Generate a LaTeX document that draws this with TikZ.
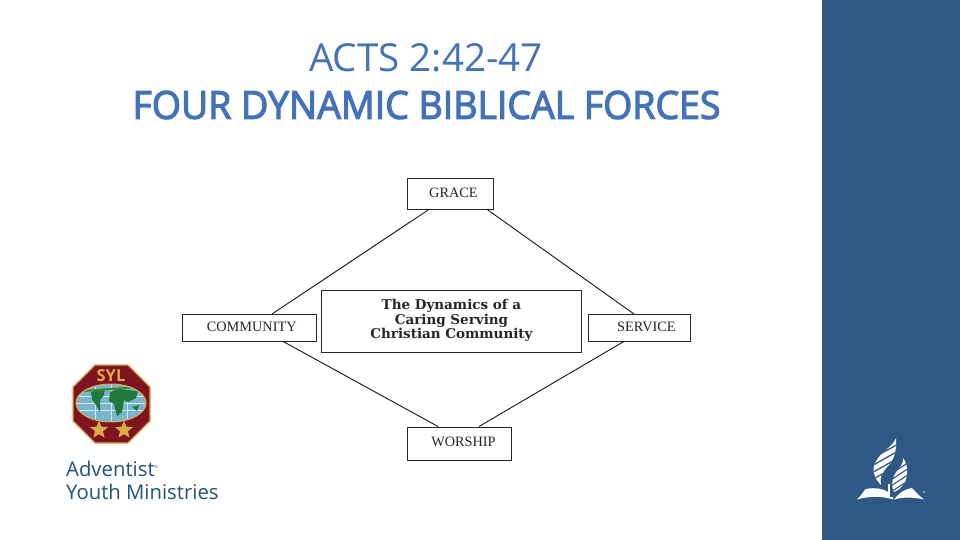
\documentclass[tikz,border=0pt]{standalone}
\usepackage{fontspec}
\usetikzlibrary{shapes.geometric}
\setmainfont{Liberation Serif}
\newfontfamily\titlefont{Open Sans}
\newfontfamily\titleboldfont[FakeBold=3,FakeStretch=0.97]{Open Sans}
\newfontfamily\logofont{Open Sans}
\newfontfamily\capfont{Liberation Serif}
\newfontfamily\headfont{DejaVu Serif}
\definecolor{titleblue}{HTML}{4472B8}
\definecolor{panelblue}{HTML}{2F5884}
\definecolor{logoteal}{HTML}{1F5378}
\definecolor{octred}{HTML}{7E1420}
\definecolor{octgold}{HTML}{DDA94A}
\definecolor{seablue}{HTML}{79B5CC}
\definecolor{landgreen}{HTML}{1F7A3A}
\tikzset{
  boxnode/.style={draw=black!85,line width=0.9pt,fill=white,inner sep=0pt,anchor=north west,font=\capfont\fontsize{14.3}{16}\selectfont,text=black!85},
  linkline/.style={draw=black,line width=0.8pt},
  starnode/.style={star,star points=5,star point ratio=2.3,fill=octgold,draw=none,inner sep=0pt,minimum size=19pt}
}
\begin{document}
\begin{tikzpicture}[x=1pt,y=-1pt]
\useasboundingbox (0,0) rectangle (960,540);
\fill[white] (0,0) rectangle (960,540);
\fill[panelblue] (822,0) rectangle (960,540);
% titles
\node[text=titleblue,font=\titlefont\fontsize{38.6}{42}\selectfont,inner sep=0pt] (title1) at (426,58) {ACTS 2:42-47};
\node[text=titleblue,font=\titleboldfont\fontsize{38.6}{44}\selectfont,inner sep=0pt] (title2) at (426.5,105) {FOUR DYNAMIC BIBLICAL FORCES};
% boxes
\node[boxnode,minimum width=86pt,minimum height=30.5pt] (grace) at (407,178) {\hspace*{6pt}\raisebox{2pt}{GRACE}};
\node[boxnode,minimum width=134.5pt,minimum height=26.5pt] (comm) at (181.5,314) {\hspace*{5pt}\raisebox{2pt}{COMMUNITY}};
\node[boxnode,minimum width=102pt,minimum height=26.5pt] (serv) at (588,314) {\hspace*{14pt}\raisebox{2pt}{SERVICE}};
\node[boxnode,minimum width=104pt,minimum height=33pt] (wors) at (407,426.5) {\hspace*{8pt}\raisebox{4pt}{WORSHIP}};
\node[boxnode,minimum width=260pt,minimum height=61.5pt,font=\headfont\bfseries\fontsize{13.5}{14.5}\selectfont] (centre) at (321,290) {\raisebox{2pt}{\begin{tabular}{@{}c@{}}The Dynamics of a\\Caring Serving\\Christian Community\end{tabular}}};
% connectors
\draw[linkline] ([xshift=22pt]grace.south west) -- ([xshift=90.5pt]comm.north west);
\draw[linkline] ([xshift=80pt]grace.south west) -- ([xshift=46pt]serv.north west);
\draw[linkline] ([xshift=101.5pt]comm.south west) -- ([xshift=31pt]wors.north west);
\draw[linkline] ([xshift=36pt]serv.south west) -- ([xshift=72pt]wors.north west);
% SYL badge
\draw[fill=octred,draw=octgold,line width=1.2pt] (95,365) -- (128,365) -- (150,387) -- (150,421) -- (128,443) -- (95,443) -- (73,421) -- (73,387) -- cycle;
\node[text=octgold,font=\titlefont\bfseries\fontsize{16.5}{18}\selectfont,inner sep=0pt] (syl) at (111,376) {SYL};
\begin{scope}
\draw[fill=seablue,draw=octgold,line width=1pt] (111,403) ellipse [x radius=35,y radius=19];
\clip (111,403) ellipse [x radius=34,y radius=18];
\draw[white!70!seablue,line width=0.25pt] (76,396) -- (146,396) (76,403) -- (146,403) (76,410) -- (146,410);
\draw[white!70!seablue,line width=0.25pt] (95,385) -- (95,421) (111,385) -- (111,421) (127,385) -- (127,421);
\fill[landgreen] (91,392) -- (105,388) -- (104,395) -- (100,400) -- (100,412) -- (96,405) -- (92,399) -- cycle;
\fill[landgreen] (110,392) -- (118,389) -- (138,391) -- (136,398) -- (128,402) -- (124,400) -- (122,412) -- (117,416) -- (114,404) -- (109,401) -- cycle;
\fill[landgreen] (132,407) -- (139,405) -- (137,411) -- cycle;
\fill[landgreen!80!octgold] (82,390) -- (140,386) -- (140,388) -- (84,392) -- cycle;
\end{scope}
\node[starnode] (star1) at (99,430) {};
\node[starnode] (star2) at (124,430) {};
% logo text
\node[anchor=base west,text=logoteal,font=\logofont\fontsize{20.3}{22}\selectfont,inner sep=0pt] (adv) at (66,476) {Adventist\raisebox{8pt}{\fontsize{4}{4}\selectfont ®}};
\node[anchor=base west,text=logoteal,font=\logofont\fontsize{20.3}{22}\selectfont,inner sep=0pt] (ym) at (66,499) {Youth Ministries};
% emblem
\begin{scope}
\clip (896,438) .. controls (893,447) and (880,452) .. (875,463) .. controls (871,472) and (876,480) .. (881,485) .. controls (879,476) and (884,470) .. (889,465) .. controls (894,459) and (897,450) .. (896,438) -- cycle;
\fill[white] (870,435) rectangle (900,490);
\draw[panelblue,line width=1.3pt] (868,461) -- (900,443) (868,468) -- (900,450) (868,475) -- (900,457) (868,482) -- (900,464);
\end{scope}
\begin{scope}
\clip (903,458) .. controls (904,463) and (900,467) .. (897,471) .. controls (892,477) and (891,486) .. (894,492) .. controls (900,490) and (906,483) .. (907,475) .. controls (908,468) and (906,462) .. (903,458) -- cycle;
\fill[white] (888,455) rectangle (912,495);
\draw[panelblue,line width=1.1pt] (888,482) -- (912,466) (888,488) -- (912,472) (888,494) -- (912,478) (888,476) -- (912,460);
\end{scope}
\fill[white] (857,499.5) .. controls (862,495) and (864,490) .. (866,489) .. controls (875,487) and (885,489) .. (889,493) -- (889,497) -- (893,497) -- (893,499.5) .. controls (883,496) and (868,496) .. (857,499.5) -- cycle;
\fill[white] (894,499.5) .. controls (900,492) and (905,489) .. (912,488) .. controls (915,491) and (919,496) .. (924,499.5) .. controls (914,497) and (902,497) .. (894,499.5) -- cycle;
\fill[white] (888,484) rectangle (890,497);
\fill[white!70!panelblue] (924,492) circle (1);
\end{tikzpicture}
\end{document}
